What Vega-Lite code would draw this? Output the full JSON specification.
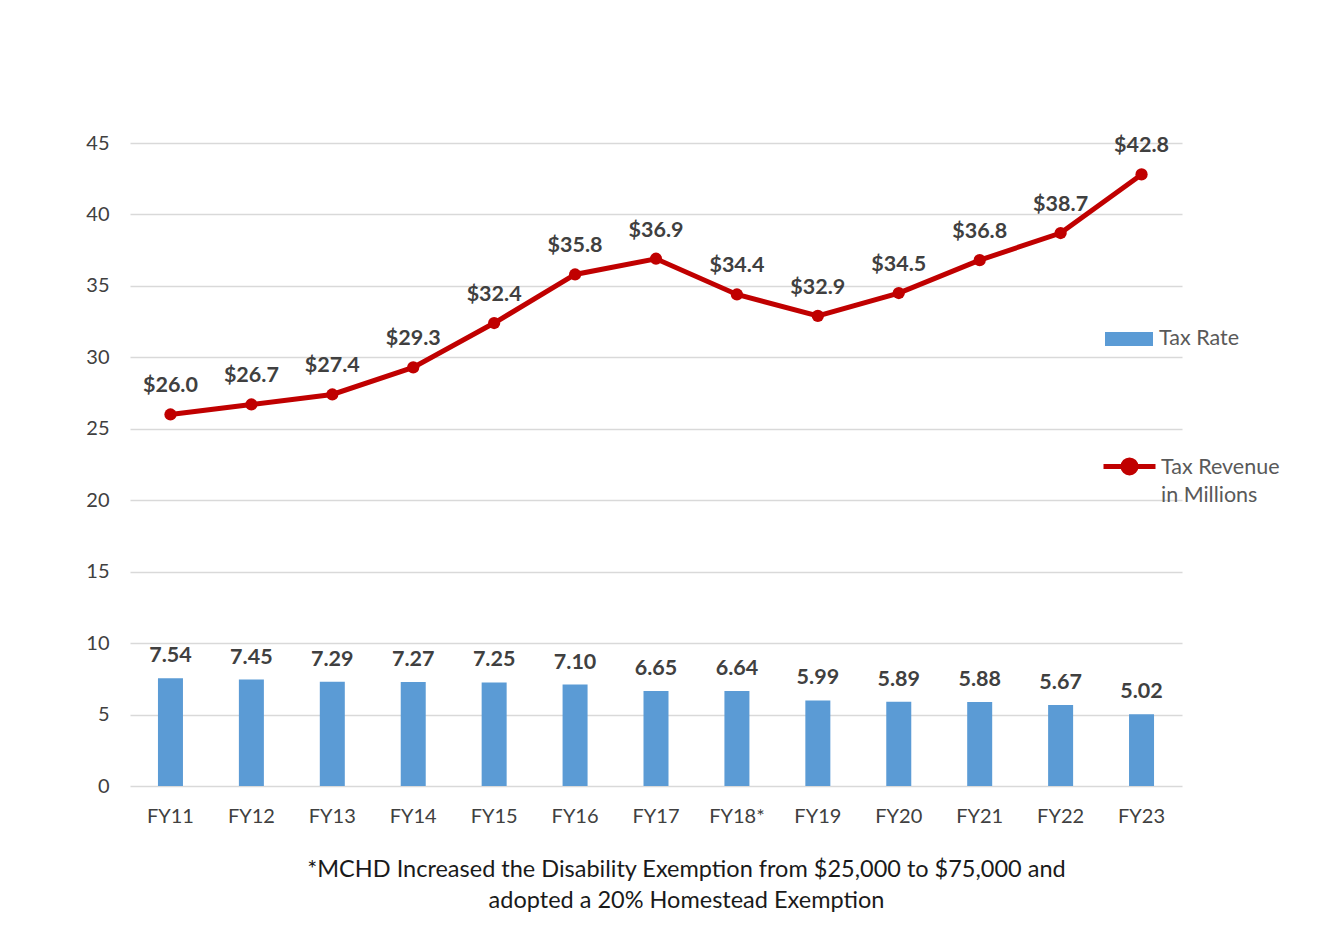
{
  "$schema": "https://vega.github.io/schema/vega-lite/v6.json",
  "autosize": {"type": "none"},
  "padding": {"left": 130, "top": 143, "right": 153, "bottom": 144},
  "width": 1052,
  "height": 643,
  "background": "white",
  "config": {
    "font": "Lato",
    "view": {"stroke": null},
    "axis": {"labelFont": "Lato", "titleFont": "Lato"}
  },
  "data": {
    "values": [
      {"fy": "FY11", "rate": 7.54, "revenue": 26.0},
      {"fy": "FY12", "rate": 7.45, "revenue": 26.7},
      {"fy": "FY13", "rate": 7.29, "revenue": 27.4},
      {"fy": "FY14", "rate": 7.27, "revenue": 29.3},
      {"fy": "FY15", "rate": 7.25, "revenue": 32.4},
      {"fy": "FY16", "rate": 7.10, "revenue": 35.8},
      {"fy": "FY17", "rate": 6.65, "revenue": 36.9},
      {"fy": "FY18*", "rate": 6.64, "revenue": 34.4},
      {"fy": "FY19", "rate": 5.99, "revenue": 32.9},
      {"fy": "FY20", "rate": 5.89, "revenue": 34.5},
      {"fy": "FY21", "rate": 5.88, "revenue": 36.8},
      {"fy": "FY22", "rate": 5.67, "revenue": 38.7},
      {"fy": "FY23", "rate": 5.02, "revenue": 42.8}
    ]
  },
  "encoding": {
    "x": {
      "field": "fy", "type": "nominal", "sort": null,
      "scale": {"paddingInner": 0, "paddingOuter": 0},
      "axis": {
        "labelAngle": 0, "labelFontSize": 20, "labelColor": "#404040",
        "labelPadding": 20, "ticks": false, "domain": false, "grid": false,
        "title": ["*MCHD Increased the Disability Exemption from $25,000 to $75,000 and", "adopted a 20% Homestead Exemption"],
        "titleFontSize": 23.5, "titleFontWeight": "normal", "titleColor": "#1a1a1a",
        "titlePadding": 31, "titleX": 556, "titleLineHeight": 31
      }
    }
  },
  "layer": [
    {
      "mark": {"type": "bar", "size": 25},
      "encoding": {
        "y": {
          "field": "rate", "type": "quantitative",
          "scale": {"domain": [0, 45], "nice": false},
          "axis": {
            "values": [0, 5, 10, 15, 20, 25, 30, 35, 40, 45],
            "title": null, "labelFontSize": 20, "labelColor": "#404040",
            "labelPadding": 21, "ticks": false, "domain": false,
            "gridColor": "#D9D9D9", "gridWidth": 1.5
          }
        },
        "fill": {
          "datum": "Tax Rate", "type": "nominal",
          "scale": {"range": ["#5B9BD5"]},
          "legend": {
            "title": null, "orient": "none", "legendX": 975, "legendY": 172,
            "padding": 0, "symbolType": "M-1,-0.29H1V0.29H-1Z", "symbolSize": 2304,
            "symbolStrokeWidth": 0, "symbolOpacity": 1,
            "labelFontSize": 21.5, "labelColor": "#595959", "labelOffset": 6
          }
        }
      }
    },
    {
      "mark": {"type": "text", "baseline": "alphabetic", "dy": -16, "fontSize": 21.5, "fontWeight": "bold", "color": "#404040"},
      "encoding": {
        "y": {"field": "rate", "type": "quantitative"},
        "text": {"field": "rate", "type": "quantitative", "format": ".2f"}
      }
    },
    {
      "mark": {"type": "line", "strokeWidth": 5, "color": "#C00000"},
      "encoding": {
        "y": {"field": "revenue", "type": "quantitative"},
        "stroke": {
          "datum": "Tax Revenue in Millions", "type": "nominal",
          "scale": {"range": ["#C00000"]},
          "legend": {
            "title": null, "orient": "none", "legendX": 971, "legendY": 302,
            "padding": 0,
            "symbolType": "M-1,-0.27H1M-0.25,-0.27A0.25,0.25 0 1,0 0.25,-0.27A0.25,0.25 0 1,0 -0.25,-0.27Z",
            "symbolSize": 2704, "symbolStrokeWidth": 5, "symbolFillColor": "#C00000",
            "symbolStrokeColor": "#C00000",
            "labelExpr": "['Tax Revenue', 'in Millions']",
            "labelLimit": 0, "labelFontSize": 21.5, "labelColor": "#595959", "labelOffset": 3,
            "labelBaseline": "alphabetic",
            "encode": {"labels": {"update": {"lineHeight": {"value": 28}}}}
          }
        }
      }
    },
    {
      "mark": {"type": "point", "filled": true, "size": 150, "color": "#C00000", "opacity": 1},
      "encoding": {
        "y": {"field": "revenue", "type": "quantitative"}
      }
    },
    {
      "mark": {"type": "text", "baseline": "alphabetic", "dy": -22, "fontSize": 21.5, "fontWeight": "bold", "color": "#404040"},
      "encoding": {
        "y": {"field": "revenue", "type": "quantitative"},
        "text": {"field": "revenue", "type": "quantitative", "format": "$.1f"}
      }
    }
  ]
}
